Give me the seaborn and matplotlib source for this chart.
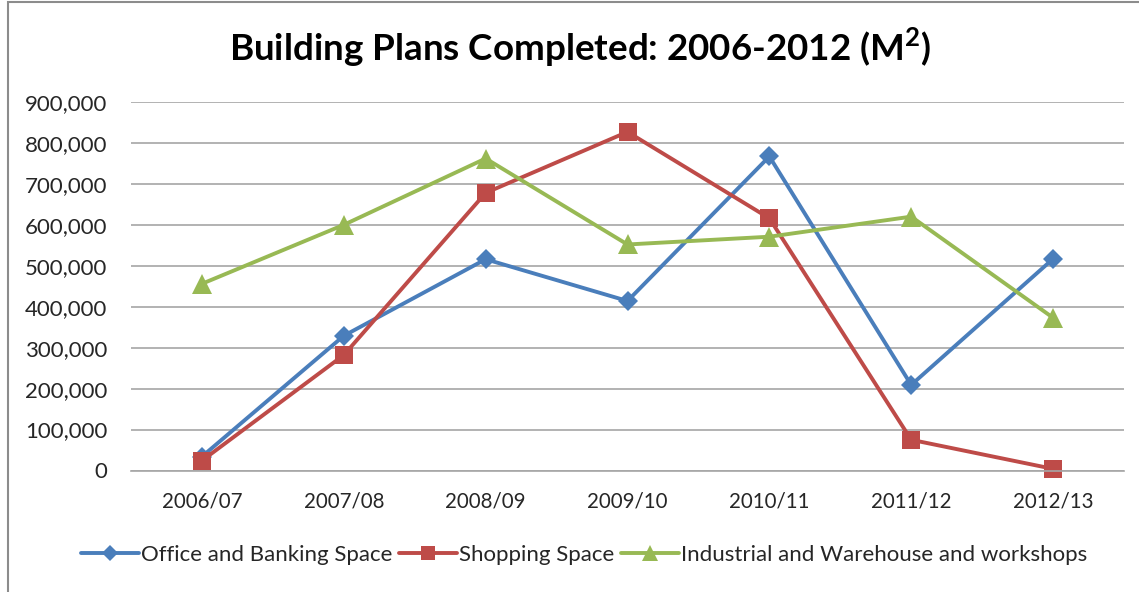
import matplotlib
matplotlib.use("Agg")
import matplotlib.pyplot as plt
from matplotlib.patches import Rectangle
from matplotlib.ticker import FuncFormatter, MultipleLocator
import pandas as pd
import seaborn as sns

years = ["2006/07", "2007/08", "2008/09", "2009/10", "2010/11", "2011/12", "2012/13"]
office = [34000, 329000, 516000, 414000, 767000, 209000, 517000]
shopping = [24000, 282000, 678000, 827000, 616000, 75000, 4000]
industrial = [456000, 600000, 762000, 552000, 571000, 620000, 373000]
series_names = ["Office and Banking Space", "Shopping Space",
                "Industrial and Warehouse and workshops"]

df = pd.concat([
    pd.DataFrame({"year": years, "value": vals, "series": name})
    for name, vals in zip(series_names, [office, shopping, industrial])
], ignore_index=True)

sns.set_theme(style="white")
plt.rcParams["font.family"] = ["Lato", "DejaVu Sans"]
plt.rcParams["mathtext.fontset"] = "custom"
plt.rcParams["mathtext.rm"] = "Lato:bold"

colors = {series_names[0]: "#4A7EBB", series_names[1]: "#BE4B48", series_names[2]: "#98B954"}
markers = {series_names[0]: "D", series_names[1]: "s", series_names[2]: "^"}
msizes = {series_names[0]: 10, series_names[1]: 13, series_names[2]: 14}

fig = plt.figure(figsize=(11.39, 5.92), dpi=100)
ax = fig.add_axes([131 / 1139, 1 - 470.5 / 592, (1124 - 131) / 1139, (470.5 - 102) / 592])

for name in series_names:
    sub = df[df["series"] == name]
    sns.lineplot(data=sub, x="year", y="value", ax=ax, color=colors[name],
                 linewidth=2.8, marker=markers[name], markersize=msizes[name],
                 markeredgewidth=0, label=name, sort=False, clip_on=False)

ax.set_xlim(-0.5, len(years) - 0.5)
ax.set_ylim(0, 900000)
ax.yaxis.set_major_locator(MultipleLocator(100000))
ax.yaxis.set_major_formatter(FuncFormatter(lambda v, p: f"{int(v):,}"))
ax.grid(axis="y", color="#A6A6A6", linewidth=1.2)
ax.grid(axis="x", visible=False)
ax.set_axisbelow(True)
for side in ["top", "right", "left"]:
    ax.spines[side].set_visible(False)
ax.spines["bottom"].set_color("#A6A6A6")
ax.spines["bottom"].set_linewidth(1.2)
ax.tick_params(axis="both", length=0, colors="#262626")
ax.tick_params(axis="y", pad=17, labelsize=16)
ax.tick_params(axis="x", pad=15, labelsize=14.8)
ax.set_xlabel("")
ax.set_ylabel("")

fig.text(0.509, 1 - 48 / 592, "Building Plans Completed: 2006-2012 (M$^{\\mathrm{2}}$)",
         ha="center", va="center", fontsize=26.5, fontweight="bold", color="black")

handles, labels = ax.get_legend_handles_labels()
ax.legend(handles, labels, loc="center", bbox_to_anchor=(584 / 1139, 1 - 555 / 592),
          bbox_transform=fig.transFigure, ncol=3, frameon=False, fontsize=16,
          handlelength=2.6, handletextpad=0.1, columnspacing=0.3, markerscale=0.8,
          labelcolor="#262626")

# outer chart frame
fig.patches.append(Rectangle((8 / 1139, -0.05), 1.2, 1 - 2 / 592 + 0.05,
                             transform=fig.transFigure, fill=False,
                             edgecolor="#8C8C8C", linewidth=1.5))

fig.savefig("out.png", dpi=100, facecolor="white")
